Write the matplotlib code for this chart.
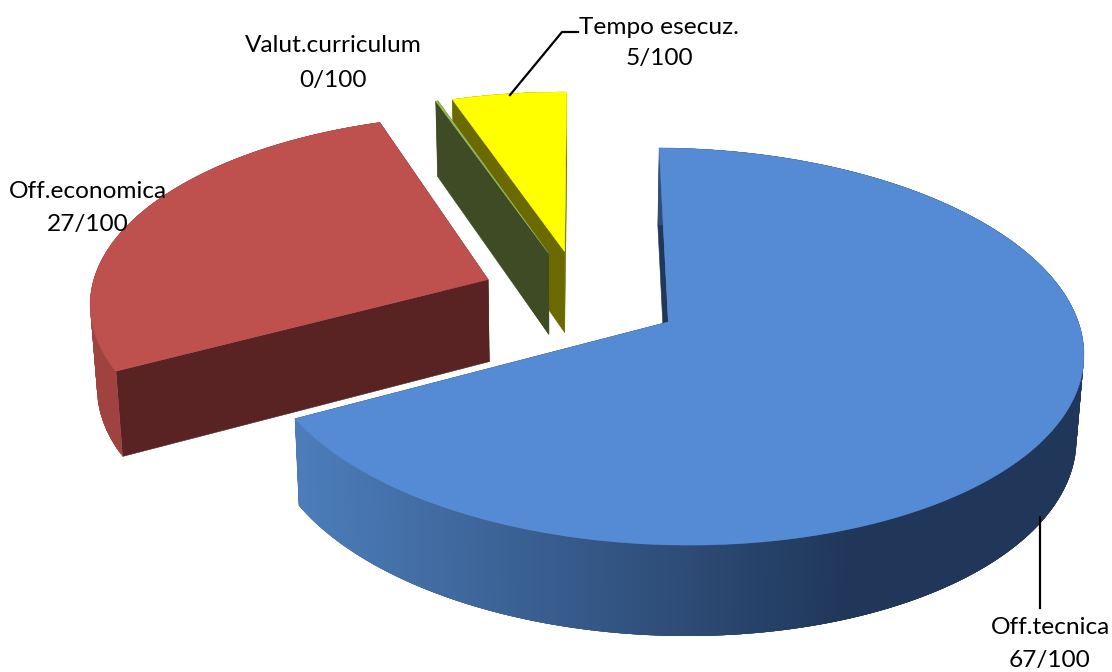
import numpy as np
import matplotlib
matplotlib.use("Agg")
import matplotlib.pyplot as plt
from matplotlib.colors import to_rgb

# data
categories = ["Off.tecnica", "Off.economica", "Valut.curriculum", "Tempo esecuz."]
values = [67, 27.6, 0.1, 5.3]
value_labels = ["67/100", "27/100", "0/100", "5/100"]

# style
top_colors = ["#558ad4", "#be504e", "#9bbb59", "#ffff00"]
wall_colors = ["#20375a", "#582322", "#3f4b24", "#6b6a00"]
outer_colors = ["#20375a", "#a04340", "#3f4b24", "#6b6a00"]
EXPLODE = 0.25
CX, CY, VX, RX, RY, K, L, T = 665, 322, 585, 408, 195.5, 0.1234, 0.006, 3
C0 = (-0.207, 0.1275)
DEPTH, K2, SHRINK, SHRINK_X = 83.5, 0.082, 0.0145, 567

fig = plt.figure(figsize=(11.12, 6.72), dpi=100)
ax = fig.add_axes([0, 0, 1, 1])
ax.set_xlim(0, 1112)
ax.set_ylim(672, 0)
ax.axis("off")


def project(u, v, bottom=False):
    u, v = np.asarray(u, float), np.asarray(v, float)
    s = 1 + K * v - L * u
    x = VX + (CX - VX + RX * u) / s
    y = CY + (T * u - RY * v) / s
    if bottom:
        x = x + (SHRINK_X - x) * SHRINK
        y = y + DEPTH / (1 + K2 * v)
    return x, y


def poly(x, y, color, z, lw=0.4):
    ax.fill(x, y, facecolor=color, edgecolor=color if lw else "none", linewidth=lw, zorder=z)


fracs = np.array(values, float) / sum(values)
edges = np.concatenate([[0], np.cumsum(fracs)]) * 2 * np.pi
draw_order = [3, 2, 1, 0]
dark, light = np.array(to_rgb("#20375a")), np.array(to_rgb("#4c7dba"))

for rank, i in enumerate(draw_order):
    a0, a1 = edges[i], edges[i + 1]
    mid = (a0 + a1) / 2
    pu = C0[0] + EXPLODE * np.sin(mid)
    pv = C0[1] + EXPLODE * np.cos(mid)
    th = np.linspace(a0, a1, max(int((a1 - a0) * 120), 2) + 1)
    u = pu + np.sin(th)
    v = pv + np.cos(th)
    z = 10 * (rank + 1)
    xt, yt = project(u, v)
    xb, yb = project(u, v, True)
    ax_, ay_ = project(pu, pv)
    bx_, by_ = project(pu, pv, True)
    # radial walls
    poly([ax_, xt[0], xb[0], bx_], [ay_, yt[0], yb[0], by_], wall_colors[i], z)
    poly([ax_, xt[-1], xb[-1], bx_], [ay_, yt[-1], yb[-1], by_], wall_colors[i], z)
    # outer wall: overlapping strips, painted from one end to the other
    n = len(th) - 1
    for j in range(n):
        k = min(j + 4, n)
        if i == 0:
            t = np.clip((850 - xt[j]) / 550, 0, 1)
            col = tuple(dark + (light - dark) * t)
        else:
            col = outer_colors[i]
        poly(np.r_[xt[j:k + 1], xb[j:k + 1][::-1]], np.r_[yt[j:k + 1], yb[j:k + 1][::-1]], col, z + 1, lw=0)
    # top face
    poly(np.r_[ax_, xt], np.r_[ay_, yt], top_colors[i], z + 2)

# labels
label_pos = [(1050, 628, 660), (88, 192, 225), (333, 46, 80), (659, 27, 58)]
for i, (lx, y1, y2) in enumerate(label_pos):
    for txt, yy in ((categories[i], y1), (value_labels[i], y2)):
        ax.text(lx, yy, txt, ha="center", va="center", fontsize=17.6, family="Lato",
                color="black", zorder=100)

# leader lines
ax.plot([510, 562, 578], [95, 32, 32], color="black", lw=1.6, zorder=90, solid_joinstyle="round")
ax.plot([1040, 1040], [517, 608], color="black", lw=1.6, zorder=90)

fig.savefig("out.png", dpi=100, facecolor="white")
